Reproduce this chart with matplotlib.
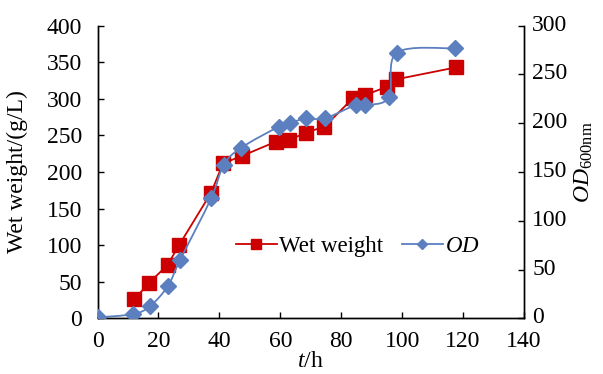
import numpy as np
import matplotlib
matplotlib.use("Agg")
import matplotlib.pyplot as plt
from matplotlib.path import Path
from matplotlib.patches import PathPatch
import matplotlib.transforms as mtransforms

plt.rcParams['font.family'] = ['Liberation Serif', 'DejaVu Serif']
plt.rcParams['mathtext.fontset'] = 'custom'
plt.rcParams['mathtext.rm'] = 'Liberation Serif'
plt.rcParams['mathtext.it'] = 'Liberation Serif:italic'

# Data
t_wet = [12.1, 17.0, 23.0, 26.8, 37.3, 41.2, 47.4, 58.5, 63.0, 68.3, 74.5, 84.0, 87.9, 95.1, 98.1, 117.8]
wet_weight = [26, 48.7, 72.9, 100.2, 171.7, 211.9, 221.9, 241.4, 243.7, 253.7, 261.9, 301.5, 305.3, 316.6, 326.7, 343.1]
t_od = [0.3, 11.8, 17.3, 23.1, 27.1, 37.3, 41.4, 47.2, 59.5, 63.1, 68.3, 74.6, 84.7, 87.9, 95.7, 98.2, 117.3]
od = [1, 4.4, 12.6, 33.1, 59.8, 123, 157.2, 174.9, 196.4, 199.9, 205, 205, 218.7, 218.7, 226.6, 272.3, 276.8]

x_ticks = [0, 20, 40, 60, 80, 100, 120, 140]
left_ticks = [0, 50, 100, 150, 200, 250, 300, 350, 400]
right_ticks = [0, 50, 100, 150, 200, 250, 300]

RED = '#CC0000'
BLUE = '#5B7FBF'
FS = 17

fig = plt.figure(figsize=(6.03, 3.74), dpi=100)
ax = fig.add_axes([0.1617, 0.1489, 0.869 - 0.1617, 0.9313 - 0.1489])
ax2 = ax.twinx()

ax.plot(t_wet, wet_weight, color=RED, lw=1.3, marker='s', ms=10.5,
        mec=RED, mfc=RED, zorder=3)


def smooth_path(x, y, tension=1/6):
    x = np.asarray(x, float); y = np.asarray(y, float)
    n = len(x)
    verts = [(x[0], y[0])]
    codes = [Path.MOVETO]
    for i in range(n - 1):
        p0 = np.array([x[max(i - 1, 0)], y[max(i - 1, 0)]])
        p1 = np.array([x[i], y[i]])
        p2 = np.array([x[i + 1], y[i + 1]])
        p3 = np.array([x[min(i + 2, n - 1)], y[min(i + 2, n - 1)]])
        c1 = p1 + (p2 - p0) * tension
        c2 = p2 - (p3 - p1) * tension
        verts += [tuple(c1), tuple(c2), tuple(p2)]
        codes += [Path.CURVE4] * 3
    return Path(verts, codes)


ax2.set_xlim(0, 140)
ax2.set_ylim(0, 300)
sx = 426.5 / 140.0
sy = 292.6 / 300.0
p = smooth_path(np.array(t_od) * sx, np.array(od) * sy)
verts = p.vertices.copy()
verts[:, 0] /= sx
verts[:, 1] /= sy
ax2.add_patch(PathPatch(Path(verts, p.codes), fill=False, ec=BLUE, lw=1.3, zorder=2))
ax2.plot(t_od, od, ls='none', marker='D', ms=8.5, mec=BLUE, mfc=BLUE, zorder=4)

ax.set_xlim(0, 140)
ax.set_ylim(0, 400)
ax.set_xticks(x_ticks)
ax.set_yticks(left_ticks)
ax2.set_yticks(right_ticks)

for a in (ax, ax2):
    a.spines['top'].set_visible(False)
    for s in a.spines.values():
        s.set_linewidth(1.0)
        s.set_color('black')
    a.tick_params(direction='in', length=4, width=1, labelsize=FS)
ax.tick_params(axis='x', pad=9)
ax.tick_params(axis='y', pad=11)
ax2.tick_params(axis='y', pad=6)

# nudge right tick labels slightly upward like the reference
off = mtransforms.ScaledTranslation(0, 3 / 100, fig.dpi_scale_trans)
for lab in ax2.get_yticklabels():
    lab.set_transform(lab.get_transform() + off)

ax.set_xlabel('$t$/h', fontsize=FS)
ax.xaxis.set_label_coords(0.5, -0.112)
ax.set_ylabel('Wet weight/(g/L)', fontsize=FS)
ax.yaxis.set_label_coords(-0.164, 0.5)
ax2.set_ylabel(r'$OD_{\mathrm{600nm}}$', fontsize=FS)
ax2.yaxis.set_label_coords(1.115, 0.534)

h1, = ax.plot([], [], color=RED, lw=1.3, marker='s', ms=7, mec=RED, mfc=RED)
h2, = ax.plot([], [], color=BLUE, lw=1.3, marker='D', ms=5.5, mec=BLUE, mfc=BLUE)
leg = ax.legend([h1, h2], ['Wet weight', '$OD$'], loc='center', bbox_to_anchor=(0.61, 0.245),
                ncol=2, frameon=False, fontsize=16.5, handlelength=1.8, handletextpad=0.1,
                columnspacing=0.8)
leg.set_zorder(10)

fig.savefig('out.png', dpi=100)
